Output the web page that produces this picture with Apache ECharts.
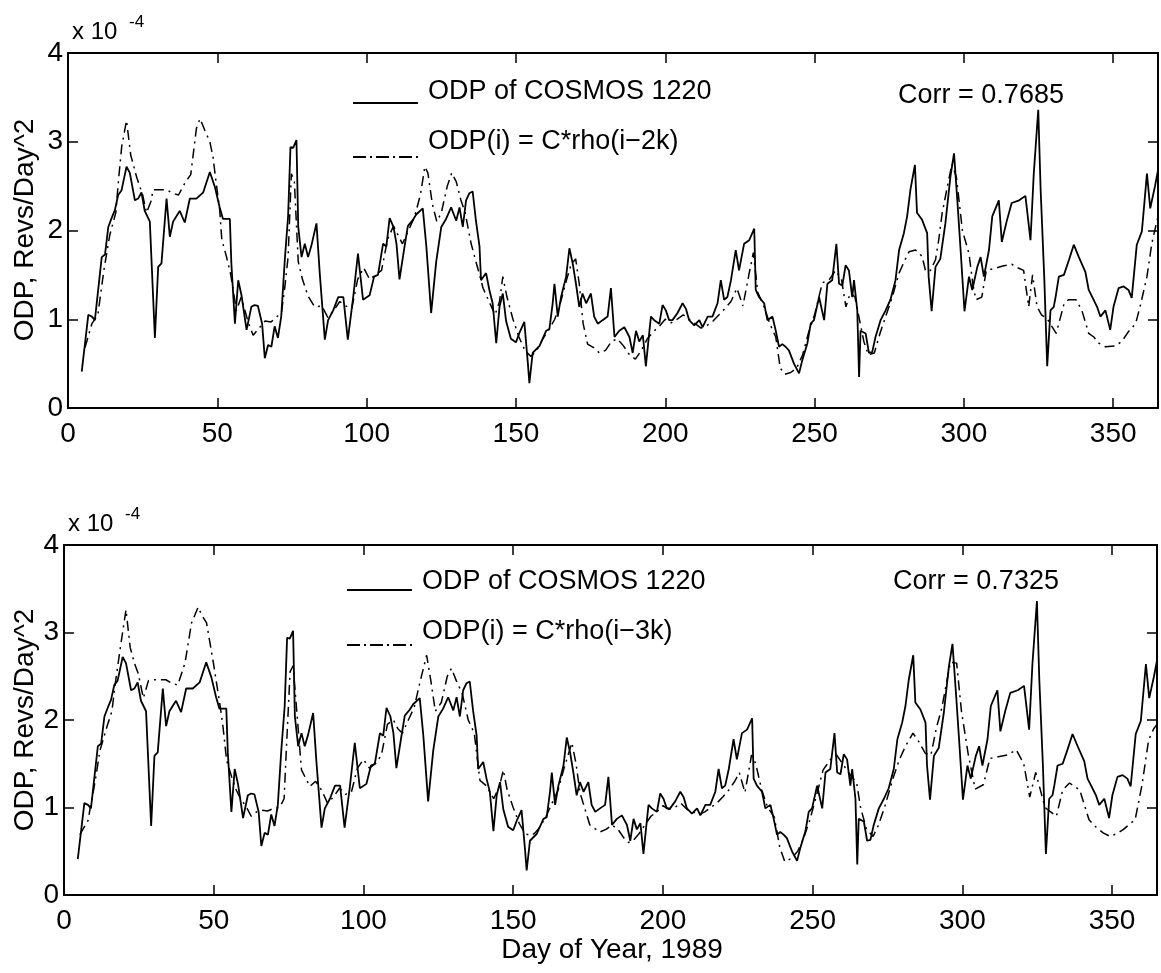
<!DOCTYPE html>
<html>
<head>
<meta charset="utf-8">
<script src="https://cdn.jsdelivr.net/npm/echarts@6/dist/echarts.min.js"></script>
<style>
  html, body { margin: 0; padding: 0; background: #fff; }
  #chart { width: 1161px; height: 973px; }
</style>
</head>
<body>
<div id="chart"></div>
<script>
// ODP of COSMOS 1220 (x 1e-4 revs/day^2)
var cosmosDays = [4.6, 6.8, 8.0, 9.0, 11.3, 12.4, 13.5, 14.6, 15.7, 16.8, 17.9, 19.6, 20.7, 22.4, 23.5, 24.6, 25.7, 27.4, 29.1, 30.2,
  31.3, 33.0, 34.1, 35.2, 37.4, 39.1, 40.8, 43.0, 45.3, 47.5, 49.2, 50.8, 51.9, 54.2, 54.7, 55.9, 57.0, 58.1, 59.8, 61.4,
  62.5, 63.6, 65.0, 65.9, 67.0, 68.1, 69.2, 70.3, 71.4, 72.6, 73.7, 74.5, 75.4, 76.5, 77.1, 78.2, 79.3, 80.4, 81.5, 83.2,
  84.3, 86.0, 87.1, 88.8, 90.5, 92.2, 93.7, 95.4, 97.1, 98.8, 101.0, 102.5, 103.8, 105.5, 106.6, 107.7, 109.0, 110.0, 111.0, 112.7,
  113.8, 115.5, 116.6, 118.8, 120.0, 121.6, 123.3, 125.0, 126.6, 128.3, 130.0, 131.1, 132.2, 133.3, 134.4, 135.5, 136.6, 137.8, 138.3, 140.0,
  141.1, 142.2, 143.4, 144.5, 145.6, 146.7, 148.3, 150.0, 151.2, 152.8, 154.0, 154.5, 155.6, 157.9, 160.1, 161.2, 162.3, 162.9, 164.0, 165.1,
  166.8, 167.9, 169.0, 170.1, 171.2, 172.3, 173.5, 175.1, 176.2, 177.4, 179.0, 180.7, 181.8, 183.0, 184.6, 186.3, 188.0, 189.1, 190.2, 191.3,
  192.5, 193.5, 194.7, 195.2, 196.3, 198.0, 199.1, 200.2, 201.3, 202.4, 204.1, 205.8, 206.9, 208.0, 209.7, 211.4, 212.5, 214.2, 215.8, 217.5,
  218.6, 219.7, 220.8, 222.0, 223.6, 224.7, 226.4, 228.1, 229.8, 230.3, 231.4, 233.1, 234.2, 235.9, 237.0, 238.1, 239.2, 240.3, 241.4, 243.1,
  244.8, 245.9, 247.6, 248.7, 249.8, 251.5, 253.2, 254.3, 255.9, 257.3, 258.2, 259.3, 260.4, 261.5, 262.6, 263.2, 264.3, 264.9, 265.4, 267.1,
  268.2, 269.3, 270.4, 272.1, 273.8, 275.4, 277.1, 278.3, 279.9, 281.0, 282.1, 283.6, 284.3, 286.0, 287.7, 288.2, 289.2, 290.5, 292.1, 293.8,
  295.5, 296.7, 297.8, 298.9, 300.2, 301.7, 302.8, 304.5, 305.6, 306.7, 308.4, 309.5, 311.7, 312.7, 314.3, 316.0, 318.5, 320.6, 322.3, 323.4,
  324.9, 325.7, 326.9, 327.9, 329.0, 330.1, 330.7, 331.8, 333.5, 335.2, 336.8, 338.5, 340.7, 341.8, 343.0, 344.6, 345.7, 347.4, 349.0, 350.1,
  351.8, 353.5, 355.1, 356.2, 357.9, 359.6, 361.3, 362.4, 364.0, 365.0];
var cosmosOdp = [0.41, 1.05, 1.03, 0.99, 1.70, 1.73, 2.04, 2.14, 2.23, 2.40, 2.45, 2.72, 2.65, 2.34, 2.36, 2.43, 2.22, 2.10, 0.79, 1.59,
  1.63, 2.36, 1.93, 2.10, 2.22, 2.09, 2.36, 2.36, 2.43, 2.66, 2.49, 2.26, 2.13, 2.13, 1.63, 0.95, 1.44, 1.27, 0.88, 1.14,
  1.16, 1.15, 0.95, 0.56, 0.71, 0.69, 0.92, 0.79, 1.03, 1.67, 2.16, 2.94, 2.93, 3.02, 2.04, 1.70, 1.85, 1.70, 1.83, 2.08,
  1.52, 0.77, 0.99, 1.10, 1.25, 1.25, 0.77, 1.22, 1.74, 1.22, 1.27, 1.48, 1.50, 1.85, 1.82, 2.14, 2.04, 1.85, 1.45, 1.82,
  2.05, 2.12, 2.18, 2.25, 1.82, 1.07, 1.65, 2.04, 2.13, 2.26, 2.11, 2.26, 2.04, 2.34, 2.42, 2.44, 2.11, 1.82, 1.44, 1.52,
  1.33, 1.18, 0.73, 1.14, 1.29, 0.98, 0.78, 0.74, 0.85, 0.97, 0.50, 0.28, 0.62, 0.70, 0.87, 0.89, 1.18, 1.40, 1.03, 1.25,
  1.48, 1.80, 1.63, 1.40, 1.14, 1.29, 1.18, 1.29, 1.03, 0.95, 0.99, 1.03, 1.35, 0.80, 0.87, 0.91, 0.80, 0.62, 0.87, 0.75,
  0.82, 0.47, 0.87, 1.03, 0.99, 0.95, 1.16, 1.10, 0.99, 0.99, 1.07, 1.18, 1.12, 0.99, 0.93, 0.99, 0.91, 1.03, 1.03, 1.18,
  1.44, 1.22, 1.25, 1.44, 1.78, 1.55, 1.85, 1.89, 2.02, 1.33, 1.25, 1.18, 0.99, 1.03, 0.87, 0.69, 0.72, 0.69, 0.65, 0.50,
  0.39, 0.54, 0.73, 0.95, 0.99, 1.25, 0.99, 1.40, 1.44, 1.85, 1.40, 1.38, 1.61, 1.55, 1.25, 1.44, 1.10, 0.35, 0.87, 0.84,
  0.62, 0.63, 0.80, 0.99, 1.10, 1.22, 1.44, 1.78, 1.97, 2.16, 2.46, 2.74, 2.20, 2.12, 1.97, 1.48, 1.09, 1.59, 1.68, 2.08,
  2.61, 2.87, 2.34, 1.78, 1.09, 1.48, 1.33, 1.59, 1.70, 1.48, 1.78, 2.16, 2.34, 1.87, 2.10, 2.31, 2.34, 2.39, 1.89, 2.64,
  3.36, 2.46, 1.48, 0.47, 1.10, 1.14, 1.25, 1.48, 1.50, 1.67, 1.84, 1.70, 1.53, 1.33, 1.25, 1.14, 1.03, 1.10, 0.88, 1.14,
  1.35, 1.37, 1.33, 1.24, 1.84, 1.99, 2.64, 2.25, 2.50, 2.68];

// ODP(i) = C*rho(i-2k)
var rho2kDays = [5.7, 8, 10, 12, 14, 16, 17, 18, 19.6, 21, 23, 25, 26.3, 27.8, 28.5, 33, 35, 37, 39.4, 41.1,
  43, 44.2, 45.8, 47.5, 48.6, 49.3, 50.8, 51.5, 53.1, 54.5, 56.4, 58, 60.4, 62, 64, 66, 68, 70, 71.5, 72.6,
  73.7, 74.8, 75.8, 77.1, 78.5, 80.4, 82.6, 85, 87, 89, 91, 93, 95, 97, 99, 101, 103, 105, 107, 109,
  110.5, 112, 114, 116, 118, 119.5, 120.5, 122, 123.5, 125, 127, 128.5, 130, 131.5, 133, 135, 137, 139, 141, 143,
  144.5, 145.6, 147, 149, 151, 153, 155, 157, 159, 161, 163, 165, 167, 168.5, 170, 171.2, 172.5, 174, 176, 178,
  180, 182, 184, 186, 188, 190, 192, 194, 196, 198, 200, 202, 204, 206, 208, 210, 212, 214, 216, 218,
  220, 222, 224, 226, 228, 229.5, 231, 233, 235, 237, 238.5, 240, 242, 244, 246, 248, 250, 252.6, 255, 257,
  259, 260.5, 262, 263.5, 265, 266.5, 268, 270, 272, 274, 276, 278.3, 280, 281.6, 283.8, 286, 287.2, 288.8, 290.5, 291.6,
  292.7, 294.5, 296, 297.5, 299.5, 301.7, 303, 304, 306, 307.5, 310, 313, 316, 318, 320, 321.7, 323, 324.5, 326, 328,
  330.9, 333.5, 335, 337.5, 339.5, 341.8, 343.5, 345.2, 347.4, 350.7, 352.9, 355.1, 357.5, 359.2, 361.3, 362.9, 364.6, 365];
var rho2kOdp = [0.68, 0.95, 1.05, 1.55, 1.95, 2.2, 2.6, 2.95, 3.24, 2.85, 2.6, 2.4, 2.2, 2.33, 2.46, 2.46, 2.42, 2.40, 2.55, 2.63,
  3.15, 3.26, 3.13, 3.0, 2.82, 2.62, 2.23, 1.9, 1.70, 1.5, 1.10, 1.25, 0.96, 0.82, 0.9, 0.98, 0.97, 1.03, 1.08, 1.36,
  1.70, 2.64, 2.55, 1.65, 1.45, 1.26, 1.14, 1.15, 1.02, 1.1, 1.2, 1.15, 1.12, 1.45, 1.58, 1.45, 1.5, 1.55, 1.9, 2.05,
  1.95, 1.85, 2.0, 2.15, 2.4, 2.72, 2.65, 2.3, 2.1, 2.2, 2.5, 2.65, 2.55, 2.35, 2.2, 1.85, 1.6, 1.35, 1.2, 1.05,
  1.2, 1.48, 1.25, 1.0, 0.8, 0.65, 0.58, 0.65, 0.78, 0.88, 1.0, 1.2, 1.45, 1.62, 1.68, 1.4, 0.95, 0.72, 0.68, 0.62,
  0.65, 0.75, 0.78, 0.7, 0.6, 0.55, 0.65, 0.78, 0.86, 0.92, 1.0, 0.96, 1.0, 1.05, 1.0, 0.95, 0.9, 0.93, 0.98, 1.05,
  1.12, 1.2, 1.35, 1.15, 1.5, 1.75, 1.3, 1.15, 0.95, 0.8, 0.45, 0.38, 0.4, 0.45, 0.6, 0.85, 1.05, 1.41, 1.45, 1.55,
  1.45, 1.14, 1.3, 1.25, 1.0, 0.75, 0.6, 0.62, 0.85, 1.05, 1.25, 1.52, 1.65, 1.76, 1.78, 1.71, 1.54, 1.55, 1.67, 1.90,
  2.19, 2.5, 2.75, 2.6, 2.0, 1.74, 1.4, 1.22, 1.25, 1.55, 1.57, 1.6, 1.62, 1.58, 1.55, 1.14, 1.5, 1.14, 1.05, 1.0,
  0.84, 1.17, 1.22, 1.22, 1.1, 0.84, 0.8, 0.73, 0.69, 0.70, 0.75, 0.86, 0.95, 1.17, 1.48, 1.85, 2.1, 2.15];

// ODP(i) = C*rho(i-3k)
var rho3kDays = [5.3, 8, 10.4, 12, 14.3, 16, 17.1, 18.7, 20.7, 22.1, 23.5, 24.8, 26.5, 28.2, 30, 34, 36, 38, 40.4, 42.6,
  44.8, 46, 47.6, 49.9, 52.1, 53, 54.3, 56, 57.5, 59, 61, 62.5, 64.3, 66, 68, 70, 72, 73.5, 74.4, 75.5,
  76.5, 77.5, 79.3, 82.1, 84, 86, 88, 90, 92, 94, 96, 98, 100, 102, 104, 106, 108, 110, 111.5, 113,
  115, 117, 119, 121.1, 122.5, 124, 126, 128, 129.4, 131, 133, 135, 137, 138.9, 141, 143.5, 145.5, 146.7, 148, 150,
  152, 154, 156, 157.3, 159, 161, 163, 165, 167, 169.6, 171, 172.3, 175.6, 178.9, 181, 183, 185, 187, 188.5, 190,
  192, 194, 196, 198, 200, 202, 204, 206, 208, 210, 212, 214, 216, 218, 220, 222, 224, 225.5, 227.4, 229.6,
  231, 233, 235, 237.2, 239, 240.7, 243, 245, 247, 249, 251, 253.5, 256, 258, 260, 262, 264.7, 266, 268, 270.2,
  272, 274, 276.9, 279, 281, 283.5, 285.5, 287.6, 289.5, 291.4, 293.1, 296, 298.1, 299.7, 302, 304.3, 307, 309.2, 312, 315,
  318, 320.5, 322.5, 324.5, 327.6, 329.5, 331.4, 333.5, 335.8, 339.2, 342.3, 344.5, 347, 349.3, 351.5, 353.8, 355.5, 357.7, 360, 362.2,
  363.9, 365];
var rho3kOdp = [0.69, 0.85, 1.3, 1.65, 1.92, 2.1, 2.41, 2.80, 3.26, 2.83, 2.65, 2.53, 2.25, 2.45, 2.46, 2.46, 2.42, 2.40, 2.65, 3.11,
  3.29, 3.2, 3.11, 2.65, 2.17, 1.95, 1.54, 1.35, 1.2, 1.1, 1.0, 0.9, 0.95, 0.97, 0.96, 0.99, 1.0, 1.1, 1.77, 2.55,
  2.62, 2.2, 1.43, 1.24, 1.3, 1.2, 1.05, 1.12, 1.22, 1.15, 1.18, 1.45, 1.55, 1.45, 1.5, 1.6, 1.95, 2.0, 1.9, 1.85,
  2.0, 2.15, 2.45, 2.74, 2.45, 2.1, 2.2, 2.5, 2.59, 2.45, 2.3, 2.0, 1.85, 1.31, 1.25, 1.1, 1.25, 1.43, 1.2, 1.0,
  0.82, 0.7, 0.68, 0.71, 0.78, 0.9, 1.05, 1.2, 1.45, 1.74, 1.5, 1.17, 0.8, 0.72, 0.75, 0.8, 0.75, 0.65, 0.6, 0.62,
  0.7, 0.8, 0.9, 0.95, 1.02, 0.98, 1.0, 1.05, 0.98, 0.95, 0.92, 0.95, 1.0, 1.05, 1.12, 1.2, 1.3, 1.4, 1.17, 1.6,
  1.5, 1.2, 1.0, 0.89, 0.55, 0.38, 0.42, 0.5, 0.65, 0.85, 1.1, 1.43, 1.55, 1.6, 1.5, 1.4, 1.28, 1.0, 0.75, 0.67,
  0.8, 1.0, 1.34, 1.55, 1.7, 1.85, 1.75, 1.62, 1.6, 1.92, 2.13, 2.66, 2.65, 2.1, 1.6, 1.21, 1.26, 1.56, 1.58, 1.6,
  1.66, 1.5, 1.12, 1.4, 1.0, 0.95, 0.9, 1.2, 1.28, 1.2, 0.86, 0.78, 0.71, 0.67, 0.7, 0.75, 0.8, 0.86, 1.26, 1.77,
  1.9, 1.95];

var xTicks = [0, 50, 100, 150, 200, 250, 300, 350];
var yTicks = [0, 1, 2, 3, 4];

function pairs(days, vals) {
  return days.map(function (d, i) { return [d, vals[i]]; });
}

var FONT = '"Liberation Sans", Arial, Helvetica, sans-serif';

function xAx(grid, top) {
  return {
    type: 'value', gridIndex: grid, min: 0, max: 365, interval: 50,
    position: top ? 'top' : 'bottom',
    axisLine: { show: true, onZero: false, lineStyle: { color: '#000', width: 2 } },
    axisTick: { show: true, inside: true, length: 10, lineStyle: { color: '#000', width: 1.5 } },
    axisLabel: {
      show: !top, margin: 12, color: '#000', fontSize: 28, fontFamily: FONT,
      formatter: function (v) { return xTicks.indexOf(v) >= 0 ? String(v) : ''; }
    },
    splitLine: { show: false }
  };
}
function yAx(grid, right) {
  return {
    type: 'value', gridIndex: grid, min: 0, max: 4, interval: 1,
    position: right ? 'right' : 'left',
    axisLine: { show: true, onZero: false, lineStyle: { color: '#000', width: 2 } },
    axisTick: { show: true, inside: true, length: 10, lineStyle: { color: '#000', width: 1.5 } },
    axisLabel: {
      show: !right, margin: 5, color: '#000', fontSize: 28, fontFamily: FONT,
      formatter: function (v) { return yTicks.indexOf(v) >= 0 ? String(v) : ''; }
    },
    splitLine: { show: false }
  };
}

function solid(name, xi, yi, data) {
  return { name: name, type: 'line', xAxisIndex: xi, yAxisIndex: yi, data: data,
    showSymbol: false, silent: true, lineStyle: { color: '#000', width: 1.8 } };
}
function dashdot(name, xi, yi, data) {
  return { name: name, type: 'line', xAxisIndex: xi, yAxisIndex: yi, data: data,
    showSymbol: false, silent: true, lineStyle: { color: '#000', width: 1.5, type: [10, 5, 2, 5] } };
}

function txt(x, y, s, size, align) {
  return { type: 'text', x: x, y: y, silent: true,
    style: { text: s, fill: '#000', font: size + 'px ' + FONT, textAlign: align || 'left', textVerticalAlign: 'middle' } };
}
function seg(x1, x2, y, dash) {
  return { type: 'line', silent: true, shape: { x1: x1, y1: y, x2: x2, y2: y },
    style: { stroke: '#000', lineWidth: dash ? 1.8 : 2, lineDash: dash ? [13, 4, 2, 4] : null } };
}

var chart = echarts.init(document.getElementById('chart'));
chart.setOption({
  animation: false,
  backgroundColor: '#fff',
  grid: [
    { left: 68, top: 53, width: 1090, height: 355 },
    { left: 64, top: 545, width: 1093, height: 350 }
  ],
  xAxis: [xAx(0, false), xAx(1, false), xAx(0, true), xAx(1, true)],
  yAxis: [yAx(0, false), yAx(1, false), yAx(0, true), yAx(1, true)],
  series: [
    solid('ODP of COSMOS 1220', 0, 0, pairs(cosmosDays, cosmosOdp)),
    dashdot('ODP(i) = C*rho(i-2k)', 0, 0, pairs(rho2kDays, rho2kOdp)),
    solid('ODP of COSMOS 1220', 1, 1, pairs(cosmosDays, cosmosOdp)),
    dashdot('ODP(i) = C*rho(i-3k)', 1, 1, pairs(rho3kDays, rho3kOdp))
  ],
  graphic: [
    // y axis titles
    { type: 'text', x: 25, y: 230, rotation: Math.PI / 2, silent: true,
      style: { text: 'ODP, Revs/Day^2', fill: '#000', font: '28px ' + FONT, textAlign: 'center', textVerticalAlign: 'middle' } },
    { type: 'text', x: 25, y: 720, rotation: Math.PI / 2, silent: true,
      style: { text: 'ODP, Revs/Day^2', fill: '#000', font: '28px ' + FONT, textAlign: 'center', textVerticalAlign: 'middle' } },
    // exponent labels
    txt(72, 32, 'x 10', 24), txt(129, 22, '-4', 17),
    txt(68, 524, 'x 10', 24), txt(125, 514, '-4', 17),
    // legend, top
    seg(353, 418, 103, false), txt(428, 92, 'ODP of COSMOS 1220', 27),
    seg(353, 418, 157, true), txt(428, 142, 'ODP(i) = C*rho(i\u22122k)', 27),
    txt(981, 96, 'Corr = 0.7685', 27, 'center'),
    // legend, bottom
    seg(347, 412, 590, false), txt(422, 582, 'ODP of COSMOS 1220', 27),
    seg(347, 412, 645, true), txt(422, 632, 'ODP(i) = C*rho(i\u22123k)', 27),
    txt(976, 582, 'Corr = 0.7325', 27, 'center'),
    // x axis title
    txt(612, 950, 'Day of Year, 1989', 28, 'center')
  ]
});
</script>
</body>
</html>
